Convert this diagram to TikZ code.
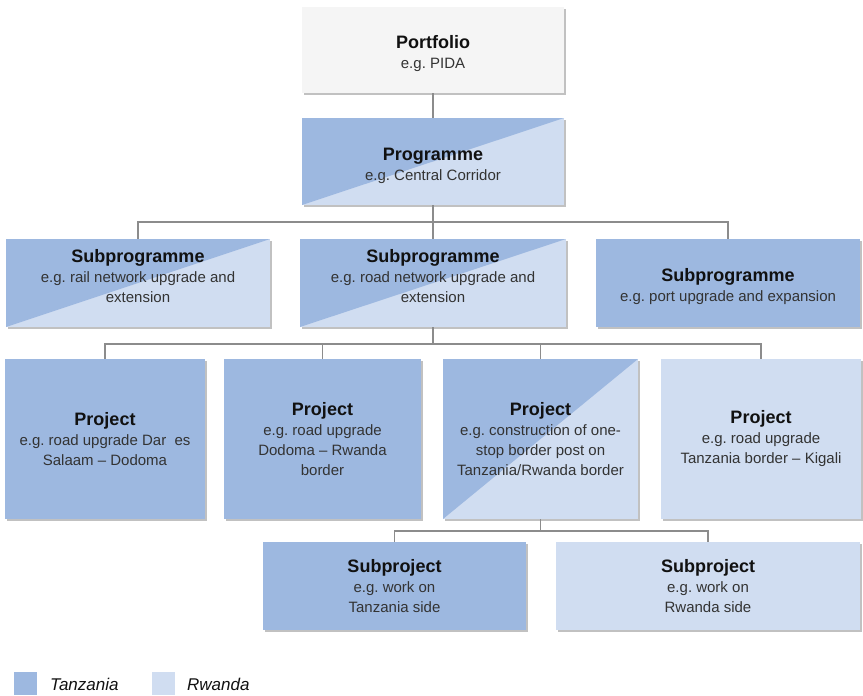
\documentclass[tikz,border=0pt]{standalone}
\usepackage{fontspec}
\setmainfont{Liberation Sans}
\usetikzlibrary{shadows}
\definecolor{tz}{HTML}{9DB8E0}
\definecolor{rw}{HTML}{D0DDF1}
\definecolor{pf}{HTML}{F5F5F5}
\definecolor{ln}{HTML}{8C8C8C}
\definecolor{tx}{HTML}{333333}
\definecolor{ttl}{HTML}{111111}
\tikzset{
  box/.style={rectangle, inner sep=4pt, align=center, text=tx,
    font=\fontsize{15}{20}\selectfont\frenchspacing,
    drop shadow={shadow xshift=2pt, shadow yshift=-2pt, opacity=0.35, fill=black!70}},
  tzbox/.style={box, fill=tz},
  rwbox/.style={box, fill=rw},
  pfbox/.style={box, fill=pf},
  splitbox/.style={box, fill=rw, path picture={\fill[tz] (path picture bounding box.north west) -- (path picture bounding box.north east) -- (path picture bounding box.south west) -- cycle;}},
  conn/.style={draw=ln, line width=1.6pt},
  legsq/.style={rectangle, inner sep=0pt, minimum size=23pt},
  legtx/.style={anchor=west, inner sep=0pt, font=\fontsize{17}{20}\selectfont\itshape, text=ttl},
}
\newcommand{\ttlx}[1]{{\fontsize{18}{20}\selectfont\bfseries\color{ttl}#1}}
\newcommand{\topsp}{\rule{0pt}{21pt}}
\newcommand{\botsp}{\rule[-15pt]{0pt}{1pt}}
\begin{document}
\begin{tikzpicture}[x=1pt,y=-1pt]
\useasboundingbox (0,0) rectangle (863,696);
% nodes
\node[pfbox, minimum width=262pt, minimum height=86pt] (pf) at (433,50) {\topsp\ttlx{Portfolio}\\e.g. PIDA};
\node[splitbox, minimum width=262pt, minimum height=87pt] (pg) at (433,161.5) {\topsp\ttlx{Programme}\\e.g. Central Corridor};
\node[splitbox, minimum width=264pt, minimum height=88pt] (sp1) at (138,283) {\ttlx{Subprogramme}\\e.g. rail network upgrade and\\extension\botsp};
\node[splitbox, minimum width=266pt, minimum height=88pt] (sp2) at (433,283) {\ttlx{Subprogramme}\\e.g. road network upgrade and\\extension\botsp};
\node[tzbox, minimum width=264pt, minimum height=88pt] (sp3) at (728,283) {\topsp\ttlx{Subprogramme}\\e.g. port upgrade and expansion};
\node[tzbox, minimum width=200pt, minimum height=160pt] (p1) at (105,439) {\ttlx{Project}\\e.g. road upgrade Dar~ es\\Salaam – Dodoma};
\node[tzbox, minimum width=197pt, minimum height=160pt] (p2) at (322.5,439) {\ttlx{Project}\\e.g. road upgrade\\Dodoma – Rwanda\\border};
\node[splitbox, minimum width=195pt, minimum height=160pt] (p3) at (540.5,439) {\ttlx{Project}\\e.g. construction of one-\\stop border post on\\Tanzania/Rwanda border};
\node[rwbox, minimum width=200pt, minimum height=160pt] (p4) at (761,439) {\ttlx{Project}\\e.g. road upgrade\\Tanzania border – Kigali};
\node[tzbox, minimum width=263pt, minimum height=88pt] (s1) at (394.5,586) {\ttlx{Subproject}\\e.g. work on\\Tanzania side};
\node[rwbox, minimum width=304pt, minimum height=88pt] (s2) at (708,586) {\ttlx{Subproject}\\e.g. work on\\Rwanda side};
% connectors
\coordinate (j1) at (433,222);
\coordinate (j2) at (433,344);
\coordinate (j3) at (540.5,531);
\draw[conn] (pf.south) -- (pg.north);
\draw[conn] (pg.south) -- (sp2.north);
\draw[conn] (sp1.north) -- (sp1.north |- j1) -- (sp3.north |- j1) -- (sp3.north);
\draw[conn] (sp2.south) -- (j2);
\draw[conn] (p1.north) -- (p1.north |- j2) -- (p4.north |- j2) -- (p4.north);
\draw[conn] (p2.north) -- (p2.north |- j2);
\draw[conn] (p3.north) -- (p3.north |- j2);
\draw[conn] (p3.south) -- (j3);
\draw[conn] (s1.north) -- (s1.north |- j3) -- (s2.north |- j3) -- (s2.north);
% legend
\node[legsq, fill=tz] (lgt) at (25.5,683.5) {};
\node[legtx] (lgtt) at (50,684) {Tanzania};
\node[legsq, fill=rw] (lgr) at (163.5,683.5) {};
\node[legtx] (lgrt) at (187,684) {Rwanda};
\end{tikzpicture}
\end{document}
